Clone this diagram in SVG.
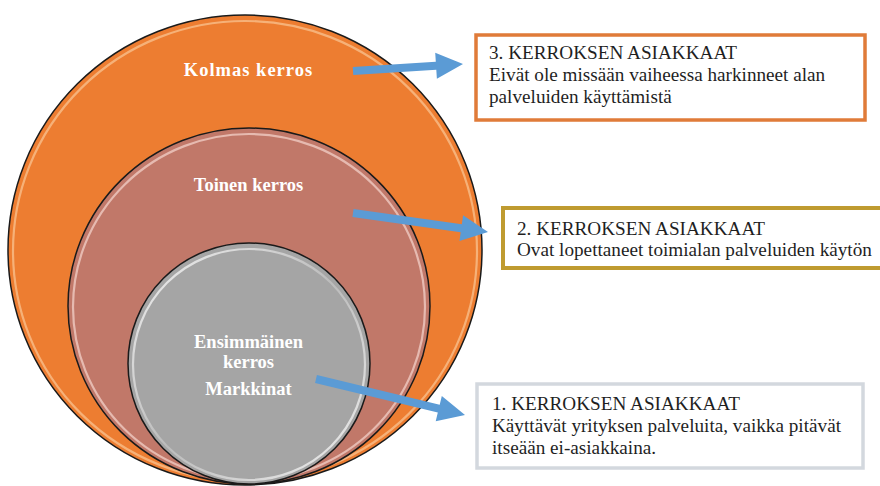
<svg xmlns="http://www.w3.org/2000/svg" width="880" height="486" viewBox="0 0 880 486">
<style>
.ring{stroke:#1a1a1a;stroke-width:1.5}
.hl{fill:none;stroke-width:2.2}
.lbl{font-family:'Liberation Serif','DejaVu Serif',serif;font-weight:bold;font-size:18.5px;fill:#ffffff;text-anchor:middle}
.box{fill:#ffffff}
.bt{font-family:'Liberation Serif','DejaVu Serif',serif;font-size:19.2px;fill:#1f1f1f}
.arr{fill:#5B9BD5}
</style>
<defs>
<linearGradient id="hlg" x1="0" y1="0" x2="1" y2="1">
<stop offset="0" stop-color="#ffffff" stop-opacity="0.85"/>
<stop offset="0.5" stop-color="#ffffff" stop-opacity="0.25"/>
<stop offset="1" stop-color="#ffffff" stop-opacity="0.85"/>
</linearGradient>
</defs>
<rect width="880" height="486" fill="#ffffff"/>
<g id="outer-circle">
<ellipse class="ring" cx="245" cy="250" rx="237" ry="235" fill="#ED7D31"/>
<ellipse class="hl" cx="245" cy="251" rx="232" ry="230" stroke="#FBD3A8" stroke-opacity="0.6"/>
<text class="lbl" x="248.5" y="76" letter-spacing="1">Kolmas kerros</text>
</g>
<g id="middle-circle">
<ellipse class="ring" cx="249" cy="306" rx="181" ry="178" fill="#C17869"/>
<ellipse class="hl" cx="249" cy="307" rx="176" ry="173" stroke="#F5D6CE" stroke-opacity="0.7"/>
<text class="lbl" x="248.5" y="191">Toinen kerros</text>
</g>
<g id="inner-circle">
<ellipse class="ring" cx="249" cy="363.5" rx="121" ry="120.5" fill="#A5A5A5"/>
<ellipse class="hl" cx="249" cy="364.5" rx="116" ry="115.5" stroke="url(#hlg)"/>
<text class="lbl" x="248.5" y="348">Ensimmäinen</text>
<text class="lbl" x="248.5" y="368">kerros</text>
<text class="lbl" x="248.5" y="395">Markkinat</text>
</g>
<g id="box-3">
<rect class="box" x="476" y="35" width="389" height="85" stroke="#E07B39" stroke-width="3.5"/>
<text class="bt" x="489" y="59">3. KERROKSEN ASIAKKAAT</text>
<text class="bt" x="489" y="81">Eivät ole missään vaiheessa harkinneet alan</text>
<text class="bt" x="489" y="103">palveluiden käyttämistä</text>
</g>
<g id="box-2">
<rect class="box" x="503" y="208" width="382" height="60" stroke="#BF9B30" stroke-width="4"/>
<text class="bt" x="517" y="235">2. KERROKSEN ASIAKKAAT</text>
<text class="bt" x="517" y="256">Ovat lopettaneet toimialan palveluiden käytön</text>
</g>
<g id="box-1">
<rect class="box" x="477" y="384" width="386" height="84" stroke="#D3D8DE" stroke-width="3.5"/>
<text class="bt" x="492" y="410">1. KERROKSEN ASIAKKAAT</text>
<text class="bt" x="492" y="432">Käyttävät yrityksen palveluita, vaikka pitävät</text>
<text class="bt" x="492" y="454">itseään ei-asiakkaina.</text>
</g>
<g id="connectors">
<polygon class="arr" points="353.25,74.99 436.30,69.70 436.88,78.68 463,64 435.22,52.74 435.80,61.72 352.75,67.01"/>
<polygon class="arr" points="352.44,216.96 460.70,232.20 459.45,241.11 488,232 463.07,215.37 461.82,224.28 353.56,209.04"/>
<polygon class="arr" points="315.06,382.89 437.82,412.55 435.71,421.30 465,415 441.81,396.02 439.70,404.77 316.94,375.11"/>
</g>
</svg>
